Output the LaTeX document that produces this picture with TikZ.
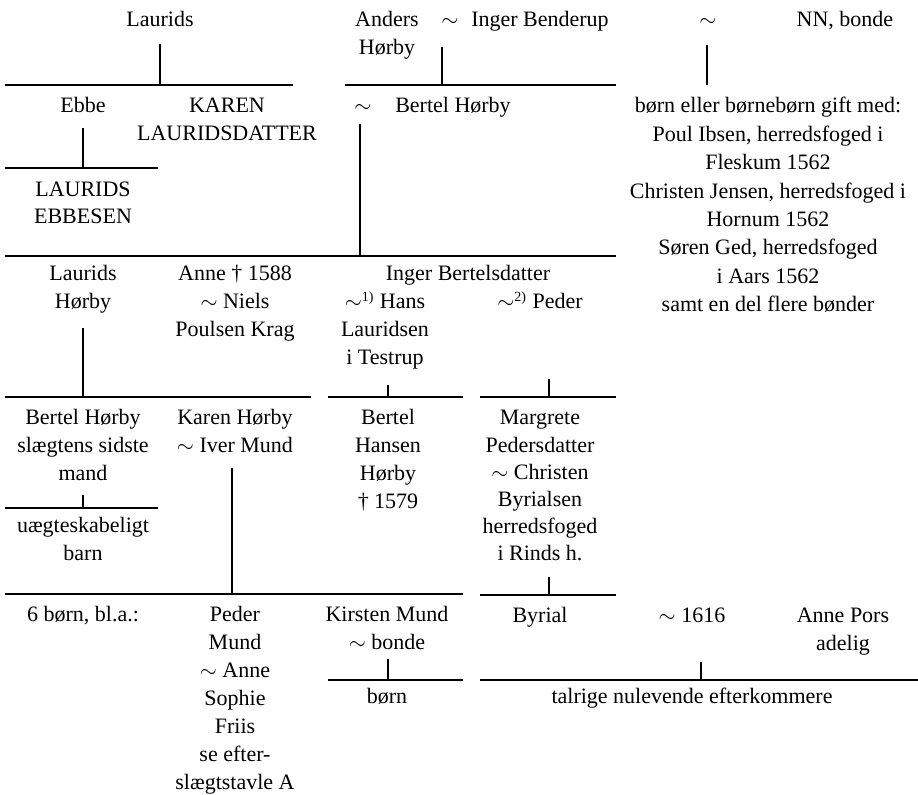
\documentclass[tikz,border=0pt]{standalone}
\usepackage{fontspec}
\setmainfont{Liberation Serif}
\tikzset{
  pers/.style={anchor=base, inner sep=0pt,
               font=\fontsize{11}{14}\selectfont},
  linje/.style={line width=1pt}
}
\newcommand{\gift}{$\sim$}
\newcommand{\stak}[1]{\begin{tabular}[t]{@{}c@{}}#1\end{tabular}}

\begin{document}
\begin{tikzpicture}[x=0.5pt,y=-0.5pt]
\useasboundingbox (0,0) rectangle (918,795);

% 1. generation
\node[pers] (laurids) at (160,27) {Laurids};
\node[pers] (anders) at (387,27) {\stak{Anders\\Hørby}};
\node[pers] (g1) at (450,27) {\gift};
\node[pers] (inger) at (540,27) {Inger Benderup};
\node[pers] (g2) at (708,27) {\gift};
\node[pers] (nn) at (845,27) {NN, bonde};

% 2. generation
\node[pers] (ebbe) at (83,113) {Ebbe};
\node[pers] (karen) at (227,113) {\stak{KAREN\\LAURIDSDATTER}};
\node[pers] (g3) at (363,113) {\gift};
\node[pers] (bertel) at (453,113) {Bertel Hørby};
\node[pers] (bonder) at (768,113) {\fontsize{11}{14.2}\selectfont
  \stak{børn eller børnebørn gift med:\\
  Poul Ibsen, herredsfoged i\\Fleskum 1562\\
  Christen Jensen, herredsfoged i\\Hornum 1562\\
  Søren Ged, herredsfoged\\i Aars 1562\\samt en del flere bønder}};
\node[pers] (ebbesen) at (83,197) {\fontsize{11}{13.3}\selectfont\stak{LAURIDS\\EBBESEN}};

% 3. generation
\node[pers] (lauridsH) at (83,281) {\stak{Laurids\\Hørby}};
\node[pers] (anne) at (235,281) {\stak{Anne † 1588\\\gift{} Niels\\Poulsen Krag}};
\node[pers] (ingerB) at (468,281) {Inger Bertelsdatter};
\node[pers] (hans) at (385,309) {\stak{\gift\textsuperscript{\scriptsize 1)} Hans\\Lauridsen\\i Testrup}};
\node[pers] (peder) at (540,309) {\gift\textsuperscript{\scriptsize 2)} Peder};

% 4. generation
\node[pers] (bertelH) at (83,425) {\stak{Bertel Hørby\\slægtens sidste\\mand}};
\node[pers] (karenH) at (235,425) {\stak{Karen Hørby\\\gift{} Iver Mund}};
\node[pers] (bertelHH) at (388,425) {\stak{Bertel\\Hansen\\Hørby\\† 1579}};
\node[pers] (margrete) at (540,425) {\fontsize{11}{13.6}\selectfont
  \stak{Margrete\\Pedersdatter\\\gift{} Christen\\
  Byrialsen\\herredsfoged\\i Rinds h.}};
\node[pers] (uaegte) at (83,533) {\stak{uægteskabeligt\\barn}};

% 5. generation
\node[pers] (seks) at (83,622) {6 børn, bl.a.:};
\node[pers] (pederM) at (235,622) {\stak{Peder\\Mund\\\gift{} Anne\\Sophie\\Friis\\
  se efter-\\slægtstavle A}};
\node[pers] (kirsten) at (387,622) {\stak{Kirsten Mund\\\gift{} bonde}};
\node[pers] (born) at (387,704) {børn};
\node[pers] (byrial) at (540,623) {Byrial};
\node[pers] (g4) at (692,623) {\gift{} 1616};
\node[pers] (anneP) at (843,623) {\stak{Anne Pors\\adelig}};
\node[pers] (talrige) at (692,704) {talrige nulevende efterkommere};

% skillelinjer
\coordinate (s1a) at (5,85);    \coordinate (s1b) at (293,85);
\coordinate (s2a) at (345,85);  \coordinate (s2b) at (616,85);
\coordinate (s3a) at (5,168);   \coordinate (s3b) at (158,168);
\coordinate (s4a) at (5,256);   \coordinate (s4b) at (616,256);
\coordinate (s5a) at (5,397);   \coordinate (s5b) at (311,397);
\coordinate (s6a) at (328,397); \coordinate (s6b) at (463,397);
\coordinate (s7a) at (480,397); \coordinate (s7b) at (616,397);
\coordinate (s8a) at (5,508);   \coordinate (s8b) at (158,508);
\coordinate (s9a) at (5,594);   \coordinate (s9b) at (463,594);
\coordinate (s10a) at (480,595); \coordinate (s10b) at (616,595);
\coordinate (s11a) at (328,680); \coordinate (s11b) at (463,680);
\coordinate (s12a) at (480,680); \coordinate (s12b) at (918,680);

\draw[linje] (s1a) -- (s1b);   \draw[linje] (s2a) -- (s2b);
\draw[linje] (s3a) -- (s3b);   \draw[linje] (s4a) -- (s4b);
\draw[linje] (s5a) -- (s5b);   \draw[linje] (s6a) -- (s6b);
\draw[linje] (s7a) -- (s7b);   \draw[linje] (s8a) -- (s8b);
\draw[linje] (s9a) -- (s9b);   \draw[linje] (s10a) -- (s10b);
\draw[linje] (s11a) -- (s11b); \draw[linje] (s12a) -- (s12b);

% nedstigning
\coordinate (v1) at (160,44);  \coordinate (v2) at (442,47);
\coordinate (v3) at (707,45);  \coordinate (v4) at (83,128);
\coordinate (v5) at (360,124); \coordinate (v6) at (83,328);
\coordinate (v7) at (388,385); \coordinate (v8) at (549,379);
\coordinate (v9) at (83,495);  \coordinate (v10) at (232,468);
\coordinate (v11) at (549,577); \coordinate (v12) at (388,659);
\coordinate (v13) at (701,662);

\draw[linje] (v1) -- (v1 |- s1a);
\draw[linje] (v2) -- (v2 |- s2a);
\draw[linje] (v3) -- (v3 |- s2a);
\draw[linje] (v4) -- (v4 |- s3a);
\draw[linje] (v5) -- (v5 |- s4a);
\draw[linje] (v6) -- (v6 |- s5a);
\draw[linje] (v7) -- (v7 |- s6a);
\draw[linje] (v8) -- (v8 |- s7a);
\draw[linje] (v9) -- (v9 |- s8a);
\draw[linje] (v10) -- (v10 |- s9a);
\draw[linje] (v11) -- (v11 |- s10a);
\draw[linje] (v12) -- (v12 |- s11a);
\draw[linje] (v13) -- (v13 |- s12a);
\end{tikzpicture}
\end{document}
